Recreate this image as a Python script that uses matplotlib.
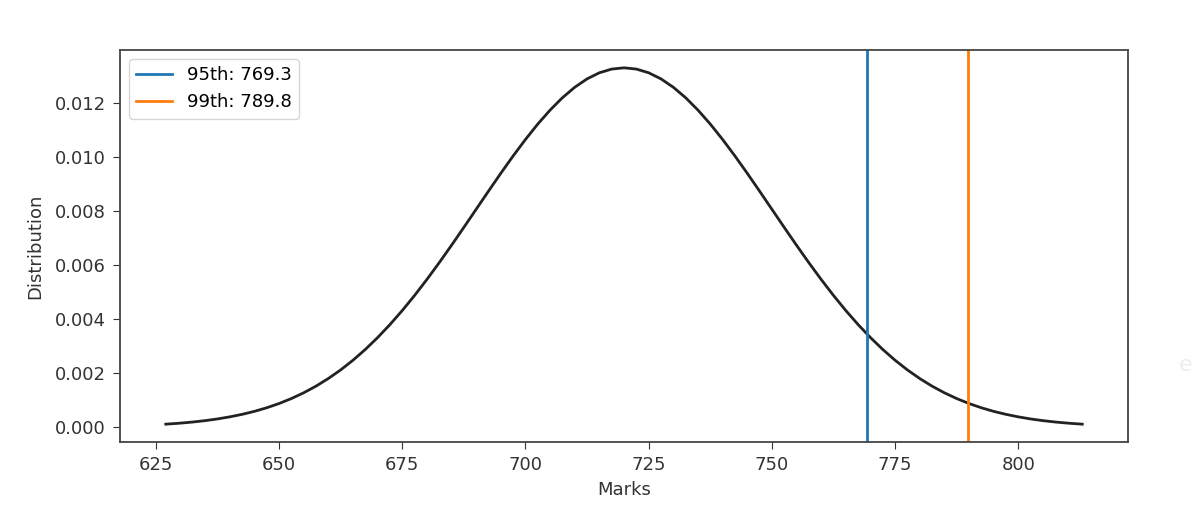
#!/usr/bin/env python3

import matplotlib
matplotlib.use("Agg")
import matplotlib.pyplot as plt

# values (marks vs density)
marks = [627, 630, 632.5, 635, 637.5, 640, 642.5, 645, 647.5, 650, 652.5, 655, 657.5,
         660, 662.5, 665, 667.5, 670, 672.5, 675, 677.5, 680, 682.5, 685, 687.5,
         690, 692.5, 695, 697.5, 700, 702.5, 705, 707.5, 710, 712.5, 715, 717.5,
         720, 722.5, 725, 727.5, 730, 732.5, 735, 737.5, 740, 742.5, 745, 747.5,
         750, 752.5, 755, 757.5, 760, 762.5, 765, 767.5, 770, 772.5, 775, 777.5,
         780, 782.5, 785, 787.5, 790, 792.5, 795, 797.5, 800, 802.5, 805, 807.5,
         810, 813]
density = [0.000109, 0.000148, 0.000189, 0.000240, 0.000303, 0.000380, 0.000473,
           0.000584, 0.000717, 0.000874, 0.001058, 0.001272, 0.001518, 0.001800,
           0.002119, 0.002477, 0.002876, 0.003316, 0.003797, 0.004317, 0.004875,
           0.005467, 0.006088, 0.006733, 0.007395, 0.008066, 0.008736, 0.009397,
           0.010038, 0.010648, 0.011218, 0.011735, 0.012192, 0.012579, 0.012889,
           0.013115, 0.013252, 0.013298, 0.013252, 0.013115, 0.012889, 0.012579,
           0.012192, 0.011735, 0.011218, 0.010648, 0.010038, 0.009397, 0.008736,
           0.008066, 0.007395, 0.006733, 0.006088, 0.005467, 0.004875, 0.004317,
           0.003797, 0.003316, 0.002876, 0.002477, 0.002119, 0.001800, 0.001518,
           0.001272, 0.001058, 0.000874, 0.000717, 0.000584, 0.000473, 0.000380,
           0.000303, 0.000240, 0.000189, 0.000148, 0.000109]

percentiles = [769.3, 789.8]
percentile_names = ["95th", "99th"]
percentile_colors = ["#1f77b4", "#ff7f0e"]

xticks = [625, 650, 675, 700, 725, 750, 775, 800]
yticks = [0.0, 0.002, 0.004, 0.006, 0.008, 0.010, 0.012]

fig = plt.figure(figsize=(11.95, 5.32), dpi=100)
ax = fig.add_axes([0.1004, 0.1692, 0.8436, 0.7368])

ax.plot(marks, density, color="#222222", linewidth=2.0)
for value, name, color in zip(percentiles, percentile_names, percentile_colors):
    ax.axvline(value, color=color, linewidth=2.0, label="%s: %.1f" % (name, value))

ax.set_xticks(xticks)
ax.set_yticks(yticks)
ax.set_yticklabels(["%.3f" % v for v in yticks])
ax.tick_params(labelsize=13, colors="#333333", length=5, pad=5)
for spine in ax.spines.values():
    spine.set_color("#444444")
    spine.set_linewidth(1.3)

ax.set_xlabel("Marks", fontsize=13, color="#333333", labelpad=5)
ax.set_ylabel("Distribution", fontsize=13, color="#333333", labelpad=8)
ax.legend(loc="upper left", fontsize=13, handlelength=2.0, borderaxespad=0.5)

fig.text(0.992, 0.313, "e", fontsize=16, color="#eeeeee", ha="center", va="center")

fig.savefig("out.png", dpi=100)
